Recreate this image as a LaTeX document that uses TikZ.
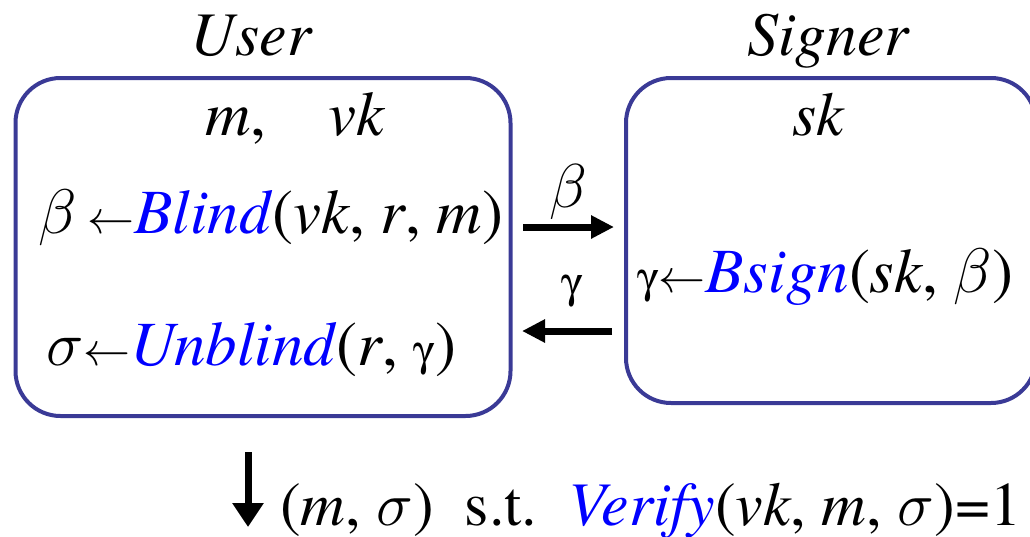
\RequirePackage{fix-cm}
\documentclass[tikz,border=0pt]{standalone}
\usepackage[Symbol]{upgreek}
\usepackage{fontspec}
\setmainfont{texgyretermes}[Extension=.otf,
  UprightFont=*-regular, ItalicFont=*-italic,
  BoldFont=*-bold, BoldItalicFont=*-bolditalic]
\usetikzlibrary{arrows.meta,positioning}
\definecolor{boxblue}{RGB}{58,58,150}
\newcommand{\fn}[1]{\textcolor{blue}{\textit{#1}}}
\newcommand{\lar}{{\fontsize{47}{47}\selectfont$\leftarrow$}}
\newcommand{\sg}{{\fontsize{44}{44}\selectfont$\upgamma$}}

\begin{document}
\begin{tikzpicture}[x=1pt,y=-1pt,
  party/.style={draw=boxblue, line width=4pt,
    rounded corners=45pt, inner sep=0pt},
  txt/.style={anchor=base west, inner sep=0pt,
    font=\fontsize{63}{70}\selectfont},
  ttl/.style={anchor=base, inner sep=0pt,
    font=\fontsize{62}{70}\selectfont\itshape},
  arr/.style={-{Triangle[length=23pt,width=22pt]},
    line width=7pt},
  lbl/.style={anchor=base, inner sep=0pt}]
\useasboundingbox (0,0) rectangle (1030,536);

% Two parties
\node[party, minimum width=495pt, minimum height=338pt]
  (user) at (263,247) {};
\node[party, minimum width=410pt, minimum height=325pt]
  (signer) at (831,240.5) {};

% Titles and keys
\node[ttl] (usr) at (251,55) {User};
\node[ttl] (sgn) at (828,55) {Signer};
\node[txt] (ukeys) at (205,135) {\textit{m},\hspace{62pt}\textit{vk}};
\node[ttl] (skey) at (818,135) {sk};

% Steps inside the boxes
\node[txt] (blind) at (38,233)
  {$\beta$\,\lar\fn{Blind}(\textit{vk}, \textit{r}, \textit{m})};
\node[txt] (unblind) at (46,365)
  {$\sigma$\lar\fn{Unblind}(\textit{r}, \sg)};
\node[txt] (bsign) at (637,292)
  {\sg\lar\fn{Bsign}(\textit{sk}, $\beta$)};

% Messages between the parties
\coordinate (b0) at (523,227);
\coordinate (b1) at (614,227);
\coordinate (g0) at (612,331);
\coordinate (g1) at (522,331);
\draw[arr] (b0) -- (b1)
  node[lbl, pos=0.5, yshift=20pt] (beta)
  {\fontsize{62}{70}\selectfont$\beta$};
\draw[arr] (g0) -- (g1);
\node[lbl] (gamma) at (572,297) {\sg};

% Output
\coordinate (o0) at (248,452);
\coordinate (o1) at (248,527);
\draw[-{Triangle[length=24pt,width=30pt]}, line width=7pt]
  (o0) -- (o1);
\node[txt, font=\fontsize{62}{70}\selectfont] (out) at (280,525)
  {(\textit{m}, $\sigma$)\ \ s.t.\ \ \fn{Verify}(\textit{vk}, \textit{m}, $\sigma$)=1};

\end{tikzpicture}
\end{document}
